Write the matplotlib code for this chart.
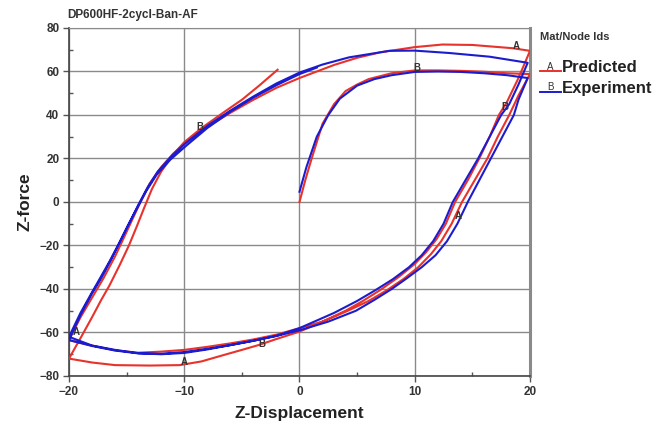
import matplotlib
matplotlib.use("Agg")
import matplotlib.pyplot as plt
from matplotlib.lines import Line2D
from matplotlib.ticker import MultipleLocator

plt.rcParams["font.family"] = ["Liberation Sans", "DejaVu Sans"]

RED = "#e8322c"
BLUE = "#1c1ccf"

# Predicted (red): initial loading + two cycles
pred_x = [0, 0.5, 1, 2, 3, 4, 5, 6, 8, 10, 12, 14, 16, 18, 20,
          19, 18.2, 17.2, 16.3, 15.2, 14.1, 13.2, 12.3, 11.4, 10.3, 9, 7.6, 6, 4.2, 2, 0,
          -2, -4, -6, -8, -10, -12, -14, -16, -18, -20,
          -19, -18, -17, -16, -15.2, -14.5, -13.8, -13, -12, -11, -10, -8, -6, -4, -2, 0, 1,
          3, 5, 7, 10, 12.4, 15, 18.5, 20,
          19, 18, 17.3, 16.5, 15.6, 14.6, 13.5, 12.7, 11.9, 11, 10, 8.6, 7, 5.5, 4, 2, 0,
          -2, -3.5, -5, -7, -8.5, -10.4, -13, -16, -18, -20,
          -19, -18, -17.2, -16.5, -15.6, -14.8, -14.1, -13.5, -12.8, -12, -11, -10, -8.5,
          -6.5, -5, -3.5, -1.9]
pred_y = [0, 10, 19, 36, 45, 51, 54, 56.5, 59.2, 60.5, 60.5, 60.3, 59.9, 59.2, 58.8,
          49, 40, 30, 20, 10, 0, -10, -18, -24, -30, -35.5, -40.5, -45.5, -50, -55, -58,
          -61, -63.2, -65, -66.6, -68, -68.8, -69.3, -68.2, -66, -63.5,
          -53, -44, -35, -25, -16, -8, 0, 8.5, 16, 22, 27, 34.5, 41, 47, 52.5, 57, 59,
          63, 66.3, 68.8, 71.2, 72.4, 72.2, 70.7, 69.5,
          57, 46, 40, 30, 20, 10, 0, -10, -17, -23, -28.5, -34.5, -40.5, -45.5, -50, -55, -59.6,
          -63, -65.7, -68, -71, -73.3, -75, -75.2, -75, -73.8, -72,
          -62.6, -53, -45, -38.5, -29, -20, -11, -3, 6, 14, 21.5, 27.5, 34,
          41.5, 47, 53.5, 60.8]

# Experiment (blue): initial loading + two cycles
exp_x = [0, 0.6, 1.5, 2.5, 3.5, 5, 6.5, 8, 10, 12, 14, 16, 18, 19.8,
         19, 18.6, 17.6, 16.6, 15.6, 14.6, 13.7, 12.8, 11.8, 10.6, 9.2, 8, 6.5, 4.9, 2.5, 0,
         -2, -4, -6, -8, -10, -12, -14, -16, -18, -20,
         -19, -18, -17.2, -16.4, -15.6, -14.8, -14, -13.2, -12.3, -11.2, -10, -8, -6, -4, -2,
         0, 2, 4.3, 7.8, 10, 13, 16.5, 19.8,
         19, 18.2, 17.5, 16.5, 15.5, 14.4, 13.3, 12.5, 11.6, 10.6, 9.5, 8.1, 6.6, 5, 3, 0,
         -2, -4, -6, -8, -10, -12, -14, -16, -18, -20,
         -19, -18, -17.3, -16.5, -15.7, -14.9, -14.1, -13.3, -12.4, -11.2, -9.8, -8, -6, -4,
         -2, 0, 1.5]
exp_y = [4.7, 16, 30, 40, 47.5, 53.5, 56.5, 58.3, 59.8, 60, 59.8, 59.2, 58.3, 57,
         47, 40, 30, 20, 10, 0, -10, -18, -24.5, -30, -35.5, -40, -45, -50, -55, -59,
         -61.6, -63.8, -65.8, -67.8, -69.4, -70, -69.6, -68.3, -66.2, -63.5,
         -52, -42, -35, -27, -18.5, -10, -1.5, 6.5, 14, 20.5, 26.5, 35, 42, 48.5, 54.5,
         59.5, 63.2, 66.5, 69.5, 69.6, 68.5, 66.8, 64,
         54, 45, 40, 30, 20, 10, 0, -10, -18, -24.5, -30, -35.5, -40.5, -45.5, -51, -58,
         -61.5, -63.8, -65.8, -67.5, -69, -69.8, -69.5, -68, -66, -62,
         -51, -41.5, -35, -27.5, -19.5, -11, -3, 5, 12.5, 19.5, 26, 34, 41.5, 48,
         53.7, 58.8, 61.8]

x_ticks = [-20, -10, 0, 10, 20]
y_ticks = [-80, -60, -40, -20, 0, 20, 40, 60, 80]

# curve id letters placed along the curves
tag_text = ["A", "B", "B", "A", "B", "A", "A", "B"]
tag_x = [18.8, 10.2, 17.8, 13.8, -8.6, -19.4, -10, -3.3]
tag_y = [71.5, 61.5, 43.5, -6.5, 34.5, -60, -73.5, -65.5]

fig = plt.figure(figsize=(6.62, 4.30), dpi=100)
ax = fig.add_axes([0.1042, 0.1256, 0.6964, 0.8093])

ax.plot(pred_x, pred_y, color=RED, lw=1.5, zorder=3)
ax.plot(exp_x, exp_y, color=BLUE, lw=1.5, zorder=3)

for t, tx, ty in zip(tag_text, tag_x, tag_y):
    ax.text(tx, ty, t, fontsize=7, fontweight="bold", color="#333333",
            ha="center", va="center", zorder=4)

ax.set_xlim(-20, 20)
ax.set_ylim(-80, 80)
ax.set_xticks(x_ticks)
ax.set_yticks(y_ticks)
ax.xaxis.set_minor_locator(MultipleLocator(5))
ax.yaxis.set_minor_locator(MultipleLocator(10))
ax.grid(True, which="major", color="#8a8a8a", lw=1.0)
ax.tick_params(which="major", direction="out", length=4, width=1, color="#555555",
               labelsize=8.5, pad=3)
ax.tick_params(which="minor", direction="in", length=3, width=1, color="#555555")
for lab in ax.get_xticklabels() + ax.get_yticklabels():
    lab.set_fontweight("bold")
    lab.set_color("#333333")

for side in ["left", "bottom"]:
    ax.spines[side].set_color("#444444")
    ax.spines[side].set_linewidth(1.2)
ax.spines["top"].set_color("#8a8a8a")
ax.spines["right"].set_color("#8a8a8a")
ax.spines["right"].set_linewidth(2.2)

ax.set_xlabel("Z-Displacement", fontsize=12.5, fontweight="bold", color="#222222")
ax.set_ylabel("Z-force", fontsize=12.5, fontweight="bold", color="#222222")
ax.xaxis.set_label_coords(0.5, -0.085)
ax.yaxis.set_label_coords(-0.08, 0.5)

fig.text(0.101, 0.952, "DP600HF-2cycl-Ban-AF", fontsize=8.5, fontweight="bold",
         color="#333333", va="bottom", ha="left")

# legend block
fig.text(0.815, 0.915, "Mat/Node Ids", fontsize=8, fontweight="bold", color="#333333",
         va="center", ha="left")
for i, (name, col, letter) in enumerate([("Predicted", RED, "A"), ("Experiment", BLUE, "B")]):
    yy = 0.843 - i * 0.048
    fig.add_artist(Line2D([0.816, 0.847], [yy - 0.008, yy - 0.008], color=col, lw=1.4,
                          transform=fig.transFigure))
    fig.text(0.831, yy + 0.002, letter, fontsize=7, color="#333333", ha="center", va="center")
    fig.text(0.848, yy, name, fontsize=12, fontweight="bold", color="#222222",
             ha="left", va="center")

fig.savefig("out.png", dpi=100)
